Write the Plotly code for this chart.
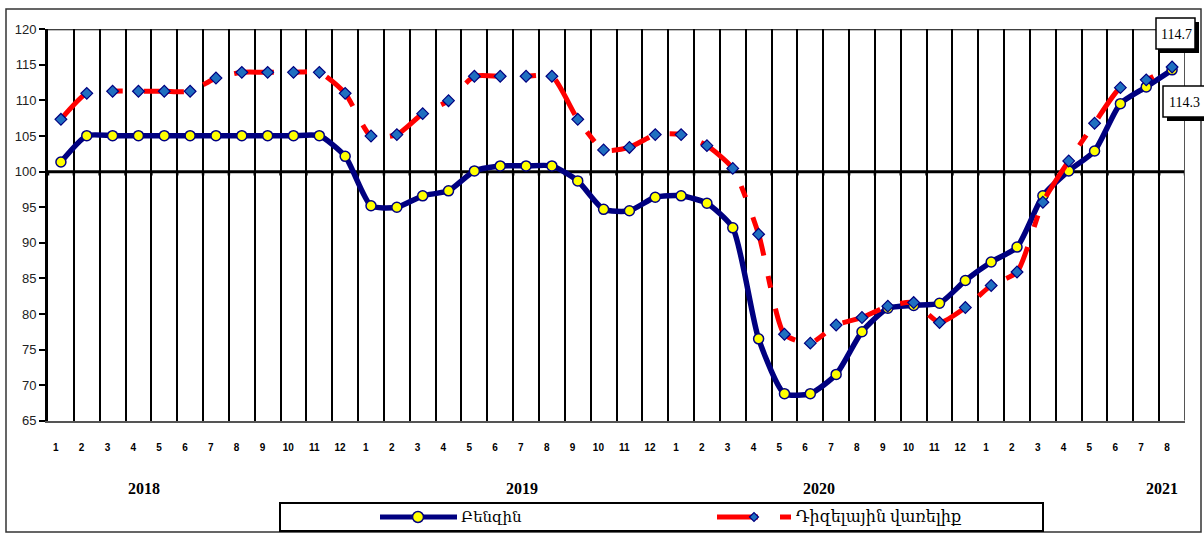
import plotly.graph_objects as go

W, H = 1204, 534

# ---- data ----
months_2018 = ["1", "2", "3", "4", "5", "6", "7", "8", "9", "10", "11", "12"]
months_2019 = ["1", "2", "3", "4", "5", "6", "7", "8", "9", "10", "11", "12"]
months_2020 = ["1", "2", "3", "4", "5", "6", "7", "8", "9", "10", "11", "12"]
months_2021 = ["1", "2", "3", "4", "5", "6", "7", "8"]
years = ["2018", "2019", "2020", "2021"]

benzin = [101.35, 105.05, 105.05, 105.05, 105.05, 105.05, 105.05, 105.05, 105.05, 105.05, 105.05, 102.15,
          95.2, 95.0, 96.6, 97.3, 100.1, 100.8, 100.8, 100.8, 98.7, 94.7, 94.5, 96.4,
          96.6, 95.55, 92.1, 76.5, 68.8, 68.8, 71.5, 77.5, 80.8, 81.2, 81.5, 84.7,
          87.3, 89.4, 96.6, 100.1, 102.9, 109.55, 111.9, 114.3]

diesel = [107.35, 111.0, 111.3, 111.3, 111.3, 111.3, 113.15, 113.95, 113.95, 113.95, 113.95, 111.0,
          105.0, 105.2, 108.15, 109.97, 113.4, 113.4, 113.4, 113.4, 107.35, 103.05, 103.4, 105.2,
          105.2, 103.65, 100.45, 91.2, 77.15, 75.9, 78.45, 79.5, 81.1, 81.6, 78.8, 80.9,
          84.0, 85.9, 95.7, 101.5, 106.8, 111.8, 112.9, 114.7]

series_names = ["Բենզին", "Դիզելային վառելիք"]

month_labels = months_2018 + months_2019 + months_2020 + months_2021
idx = list(range(len(month_labels)))
n = len(idx)


def px(x):
    return x / W


def py(y):
    return 1 - y / H


NAVY = "#000080"
RED = "#FF0000"
DIAM = "#1F6FC0"
SERIF = "Liberation Serif, DejaVu Serif, serif"
SANS = "Liberation Sans, Arial, sans-serif"

fig = go.Figure()

fig.add_trace(go.Scatter(
    x=idx, y=benzin, name=series_names[0], mode="lines+markers",
    line=dict(color=NAVY, width=5.5, shape="spline", smoothing=0.6),
    marker=dict(symbol="circle", size=10, color="#FFFF00", line=dict(color=NAVY, width=1.5)),
    showlegend=False, hoverinfo="skip"))

fig.add_trace(go.Scatter(
    x=idx, y=diesel, name=series_names[1], mode="lines+markers",
    line=dict(color=RED, width=5, shape="spline", smoothing=0.6, dash="40px,21px,12px,21px"),
    marker=dict(symbol="diamond", size=9, color=DIAM, line=dict(color=NAVY, width=1.2)),
    showlegend=False, hoverinfo="skip"))

bounds = [k - 0.5 for k in range(1, n)]

shapes = []
# outer frame
shapes.append(dict(type="rect", xref="paper", yref="paper", x0=px(6), x1=px(1201), y0=py(532), y1=py(9),
                   line=dict(color="#333333", width=1.5), layer="below"))
# 100 reference line (category axis crossing)
shapes.append(dict(type="line", xref="x", yref="y", x0=-0.5, x1=n - 0.5, y0=100, y1=100,
                   line=dict(color="black", width=3), layer="between"))
for b in [-0.5] + bounds + [n - 0.5]:
    shapes.append(dict(type="line", xref="x", yref="y", x0=b, x1=b, y0=100, y1=99.45,
                       line=dict(color="black", width=2.5), layer="between"))
# top line and right border
shapes.append(dict(type="line", xref="x", yref="y", x0=-0.5, x1=n - 0.5, y0=120, y1=120,
                   line=dict(color="black", width=2), layer="between"))
shapes.append(dict(type="line", xref="x", yref="y", x0=n - 0.5, x1=n - 0.5, y0=65, y1=120,
                   line=dict(color="#555555", width=2), layer="between"))

# legend box
shapes.append(dict(type="rect", xref="paper", yref="paper", x0=px(280), x1=px(1043), y0=py(531), y1=py(503),
                   line=dict(color="black", width=2), fillcolor="white", layer="above"))
shapes.append(dict(type="line", xref="paper", yref="paper", x0=px(380), x1=px(457), y0=py(517), y1=py(517),
                   line=dict(color=NAVY, width=5), layer="above"))
shapes.append(dict(type="circle", xref="paper", yref="paper", x0=px(412.5), x1=px(423.5), y0=py(522.5), y1=py(511.5),
                   line=dict(color=NAVY, width=1.5), fillcolor="#FFFF00", layer="above"))
shapes.append(dict(type="line", xref="paper", yref="paper", x0=px(717), x1=px(758), y0=py(517), y1=py(517),
                   line=dict(color=RED, width=5), layer="above"))
shapes.append(dict(type="line", xref="paper", yref="paper", x0=px(780), x1=px(791), y0=py(517), y1=py(517),
                   line=dict(color=RED, width=5), layer="above"))
dx, dy = 4.5, 4.5
cx, cy = 754, 517
shapes.append(dict(type="path", xref="paper", yref="paper",
                   path=f"M {px(cx-dx)},{py(cy)} L {px(cx)},{py(cy-dy)} L {px(cx+dx)},{py(cy)} L {px(cx)},{py(cy+dy)} Z",
                   line=dict(color=NAVY, width=1.2), fillcolor=DIAM, layer="above"))

# value label boxes with shadows
for (x0, y0, x1, y1) in [(1156, 18, 1195, 49), (1163, 86, 1207, 117)]:
    shapes.append(dict(type="rect", xref="paper", yref="paper", x0=px(x0 + 4), x1=px(x1 + 4), y0=py(y1 + 4), y1=py(y0 + 4),
                       line=dict(width=0), fillcolor="black", layer="above"))
    shapes.append(dict(type="rect", xref="paper", yref="paper", x0=px(x0), x1=px(x1), y0=py(y1), y1=py(y0),
                       line=dict(color="black", width=1.5), fillcolor="white", layer="above"))

annotations = []
for yr, xc in zip(years, [144, 522, 819, 1162]):
    annotations.append(dict(text=f"<b>{yr}</b>", xref="paper", yref="paper", x=px(xc), y=py(488),
                            xanchor="center", yanchor="middle", showarrow=False,
                            font=dict(family=SERIF, size=16, color="black")))
annotations.append(dict(text=series_names[0], xref="paper", yref="paper", x=px(459), y=py(517),
                        xanchor="left", yanchor="middle", showarrow=False,
                        font=dict(family=SERIF, size=15, color="black")))
annotations.append(dict(text=series_names[1], xref="paper", yref="paper", x=px(794), y=py(517),
                        xanchor="left", yanchor="middle", showarrow=False,
                        font=dict(family=SERIF, size=16, color="black")))
annotations.append(dict(text=f"{diesel[-1]:.1f}", xref="paper", yref="paper", x=px(1176), y=py(34),
                        xanchor="center", yanchor="middle", showarrow=False,
                        font=dict(family=SERIF, size=14, color="black")))
annotations.append(dict(text=f"{benzin[-1]:.1f}", xref="paper", yref="paper", x=px(1184), y=py(102),
                        xanchor="center", yanchor="middle", showarrow=False,
                        font=dict(family=SERIF, size=14, color="black")))

fig.update_layout(
    width=W, height=H,
    margin=dict(l=0, r=0, t=0, b=0, autoexpand=False),
    paper_bgcolor="white", plot_bgcolor="rgba(0,0,0,0)",
    showlegend=False,
    shapes=shapes, annotations=annotations,
    xaxis=dict(
        domain=[px(48), px(1185)], range=[-0.5, n - 0.5],
        tickmode="array", tickvals=[i - 0.2 for i in idx], ticktext=month_labels,
        ticks="", ticklabelstandoff=16, automargin=False,
        tickfont=dict(family=SANS, size=10, color="black", weight="bold"),
        showgrid=False, zeroline=False,
        showline=True, linecolor="#555555", linewidth=2,
        minor=dict(tickmode="array", tickvals=bounds, showgrid=True, gridcolor="black", gridwidth=1.5, ticks=""),
        fixedrange=True,
    ),
    yaxis=dict(
        domain=[py(420.7), py(29.3)], range=[65, 120],
        tickmode="linear", tick0=65, dtick=5, automargin=False,
        ticks="outside", ticklen=6, tickwidth=2, tickcolor="black",
        tickfont=dict(family=SANS, size=13, color="#222222"),
        showgrid=False, zeroline=False,
        showline=True, linecolor="black", linewidth=3,
        fixedrange=True,
    ),
)

fig.write_html("out.html", config={"displayModeBar": False},
               post_script="document.body.style.margin='0px';document.body.style.overflow='hidden';")
